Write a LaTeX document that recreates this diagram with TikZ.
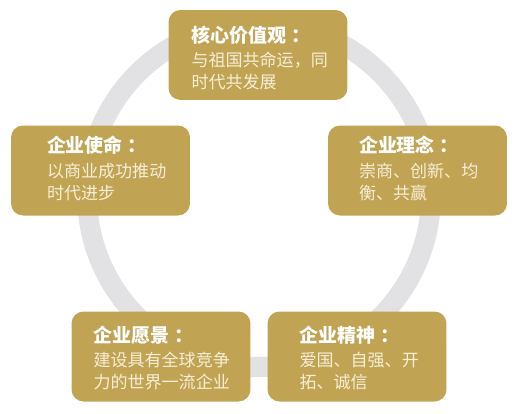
\documentclass[tikz,border=0pt]{standalone}
\usepackage{fontspec}
\newfontfamily\cjk{Noto Sans CJK SC}
\usetikzlibrary{positioning}

\definecolor{gold}{RGB}{193,163,84}
\definecolor{ringgray}{RGB}{226,226,228}
\definecolor{cream}{RGB}{247,238,214}

\tikzset{
  panel/.style={fill=gold, rounded corners=0.24cm, minimum width=3.58cm, minimum height=1.8cm, inner sep=0pt},
  head/.style={anchor=west, inner sep=0pt, text=white, font=\cjk\bfseries\fontsize{10.8}{12}\selectfont},
  body/.style={anchor=west, inner sep=0pt, align=left, text=cream, font=\cjk\fontsize{9.7}{12.8}\selectfont},
}

\begin{document}
\begin{tikzpicture}[x=0.02cm, y=-0.02cm]
    \useasboundingbox (0,0) rectangle (519,413);
    \draw[ringgray, line width=0.4cm] (259,195) circle [radius=3.44cm];

    \node[panel] (core) at (258,55) {};
    \node[panel] (mission) at (100.5,170.5) {};
    \node[panel] (idea) at (417.5,170.5) {};
    \node[panel] (vision) at (161,356.5) {};
    \node[panel] (spirit) at (357,356.5) {};

    \node[head] (coreT) at ([shift={(23,25.5)}]core.north west) {核心价值观\kern0.25em：};
    \node[body] (coreB) at ([shift={(23,61.5)}]core.north west) {与祖国共命运，同\\时代共发展};

    \node[head] (missionT) at ([shift={(36,20)}]mission.north west) {企业使命\kern0.25em：};
    \node[body] (missionB) at ([shift={(36,57)}]mission.north west) {以商业成功推动\\时代进步};

    \node[head] (ideaT) at ([shift={(31,20)}]idea.north west) {企业理念\kern0.25em：};
    \node[body] (ideaB) at ([shift={(31,57)}]idea.north west) {崇商、创新、均\\衡、共赢};

    \node[head] (visionT) at ([shift={(22,24)}]vision.north west) {企业愿景\kern0.25em：};
    \node[body] (visionB) at ([shift={(22,60)}]vision.north west) {建设具有全球竞争\\力的世界一流企业};

    \node[head] (spiritT) at ([shift={(32,24)}]spirit.north west) {企业精神\kern0.25em：};
    \node[body] (spiritB) at ([shift={(32,60)}]spirit.north west) {爱国、自强、开\\拓、诚信};
\end{tikzpicture}
\end{document}
